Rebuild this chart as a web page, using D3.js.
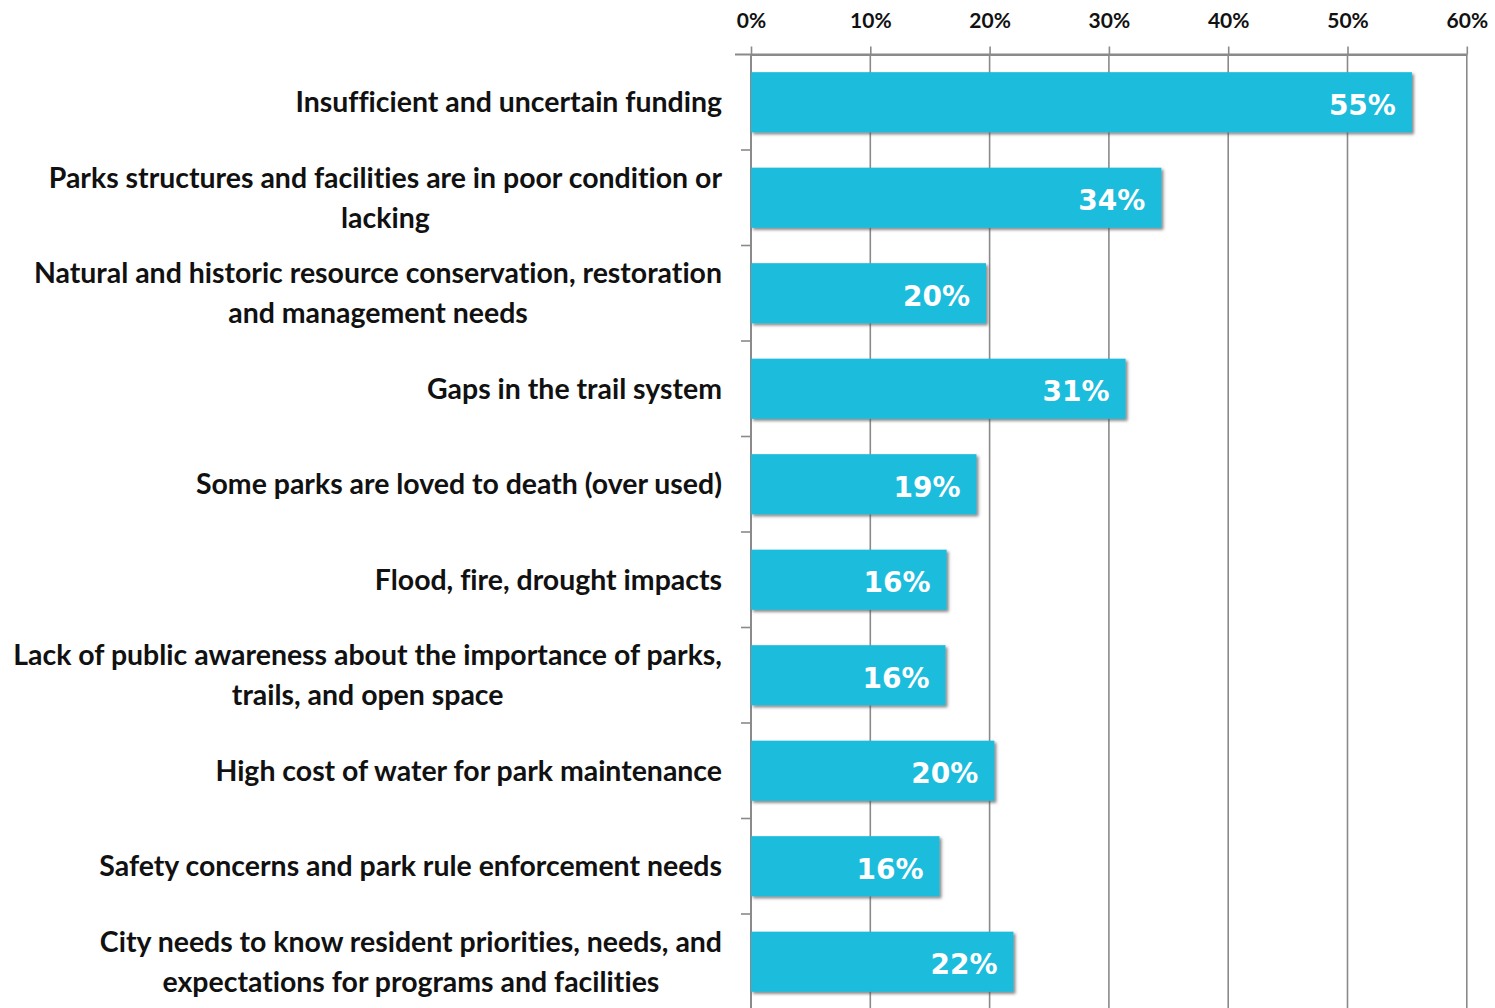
<!DOCTYPE html>
<html>
<head>
<meta charset="utf-8">
<script src="https://cdn.jsdelivr.net/npm/d3@7"></script>
<style>
  body { margin: 0; background: #fff; }
  svg { display: block; }
  text { font-variant-ligatures: none; }
</style>
</head>
<body>
<div id="chart"></div>
<script>
// categories, each one split in the lines shown on the chart
var categories = [
  ["Insufficient and uncertain funding"],
  ["Parks structures and facilities are in poor condition or", "lacking"],
  ["Natural and historic resource conservation, restoration", "and management needs"],
  ["Gaps in the trail system"],
  ["Some parks are loved to death (over used)"],
  ["Flood, fire, drought impacts"],
  ["Lack of public awareness about the importance of parks,", "trails, and open space"],
  ["High cost of water for park maintenance"],
  ["Safety concerns and park rule enforcement needs"],
  ["City needs to know resident priorities, needs, and", "expectations for programs and facilities"]
];
var values = [0.554, 0.344, 0.197, 0.314, 0.189, 0.164, 0.163, 0.204, 0.158, 0.220];
var xTicks = [0, 0.1, 0.2, 0.3, 0.4, 0.5, 0.6];

var svgWidth = 1495;
var svgHeight = 1008;
var margin = { top: 54.5, left: 751, right: 28.2 };
var plotBottom = 1009.5;
var labelFont = "Lato, 'Open Sans', sans-serif";

var svg = d3.select("#chart")
  .append("svg")
    .attr("width", svgWidth)
    .attr("height", svgHeight);

var defs = svg.append("defs");
var shadow = defs.append("filter")
  .attr("id", "shadow")
  .attr("x", "-5%").attr("y", "-20%")
  .attr("width", "115%").attr("height", "150%");
shadow.append("feDropShadow")
  .attr("dx", 2).attr("dy", 2)
  .attr("stdDeviation", 1.6)
  .attr("flood-color", "#555")
  .attr("flood-opacity", 0.7);

var x = d3.scaleLinear()
  .domain([0, 0.6])
  .range([margin.left, svgWidth - margin.right]);

var y = d3.scaleBand()
  .domain(d3.range(categories.length))
  .range([margin.top, plotBottom])
  .paddingInner(0.37)
  .paddingOuter(0.185);

var step = y.step();

// vertical gridlines
svg.append("g")
  .selectAll("line")
  .data(xTicks.slice(1))
  .enter()
  .append("line")
    .attr("x1", d => x(d))
    .attr("x2", d => x(d))
    .attr("y1", margin.top)
    .attr("y2", svgHeight)
    .attr("stroke", "#8a8a8a")
    .attr("stroke-width", 1.6);

// top axis
var topAxis = d3.axisTop(x)
  .tickValues(xTicks)
  .tickSize(8)
  .tickSizeOuter(0)
  .tickFormat(d3.format(".0%"));

var axisG = svg.append("g")
  .attr("transform", `translate(0, ${margin.top})`)
  .call(topAxis);
axisG.select(".domain").attr("stroke", "#8a8a8a").attr("stroke-width", 2);
axisG.selectAll(".tick line").attr("stroke", "#8a8a8a").attr("stroke-width", 1.6);
axisG.selectAll(".tick text")
  .attr("y", -27)
  .attr("font-family", labelFont)
  .attr("font-weight", "bold")
  .attr("font-size", "21px")
  .attr("fill", "#111");

// left axis line + boundary ticks
svg.append("line")
  .attr("x1", margin.left - 16).attr("x2", x(0.6))
  .attr("y1", margin.top).attr("y2", margin.top)
  .attr("stroke", "#8a8a8a").attr("stroke-width", 2);
svg.append("line")
  .attr("x1", x(0)).attr("x2", x(0))
  .attr("y1", margin.top).attr("y2", svgHeight)
  .attr("stroke", "#8a8a8a").attr("stroke-width", 2);
svg.append("g")
  .selectAll("line")
  .data(d3.range(1, categories.length))
  .enter()
  .append("line")
    .attr("x1", x(0) - 10)
    .attr("x2", x(0))
    .attr("y1", i => margin.top + i * step)
    .attr("y2", i => margin.top + i * step)
    .attr("stroke", "#8a8a8a")
    .attr("stroke-width", 1.6);

// bars
var barGroup = svg.selectAll(".bar")
  .data(values)
  .enter()
  .append("g")
    .attr("class", "bar");

barGroup.append("rect")
  .attr("x", x(0))
  .attr("y", (d, i) => y(i))
  .attr("width", d => x(d) - x(0))
  .attr("height", y.bandwidth())
  .attr("fill", "#1bbcdd")
  .attr("filter", "url(#shadow)");

barGroup.append("text")
  .text(d => d3.format(".0%")(d))
  .attr("x", d => x(d) - 16)
  .attr("y", (d, i) => y(i) + y.bandwidth() / 2 + 12.5)
  .attr("text-anchor", "end")
  .attr("font-family", "'DejaVu Sans', Verdana, sans-serif")
  .attr("font-weight", "bold")
  .attr("font-size", "28px")
  .attr("fill", "#fff");

// category labels: right-aligned block, lines centred inside it
var labelRight = 722;
var lineHeight = 40;
var labelG = svg.append("g");
var labelGroups = labelG.selectAll("g")
  .data(categories)
  .enter()
  .append("g");

var fontSize = 26;
labelGroups.selectAll("text")
  .data((lines, i) => lines.map((t, j) => ({ t: t, j: j, n: lines.length, i: i })))
  .enter()
  .append("text")
    .text(d => d.t)
    .attr("font-family", labelFont)
    .attr("font-weight", "bold")
    .attr("font-size", fontSize + "px")
    .attr("fill", "#111");

// scale font so the widest line matches the reference width
var widest = 0;
labelG.selectAll("text").each(function(d) {
  if (d.t.indexOf("Lack of public") === 0) widest = this.getComputedTextLength();
});
fontSize = fontSize * 709 / widest;
labelG.selectAll("text").attr("font-size", fontSize + "px");

labelGroups.each(function(lines, i) {
  var g = d3.select(this);
  var w = 0;
  g.selectAll("text").each(function() { w = Math.max(w, this.getComputedTextLength()); });
  var cx = labelRight - w / 2;
  var cy = margin.top + (i + 0.5) * step;
  g.selectAll("text")
    .attr("x", cx)
    .attr("text-anchor", "middle")
    .attr("y", d => cy + (d.j - (d.n - 1) / 2) * lineHeight)
    .attr("dy", "0.35em");
});
</script>
</body>
</html>
